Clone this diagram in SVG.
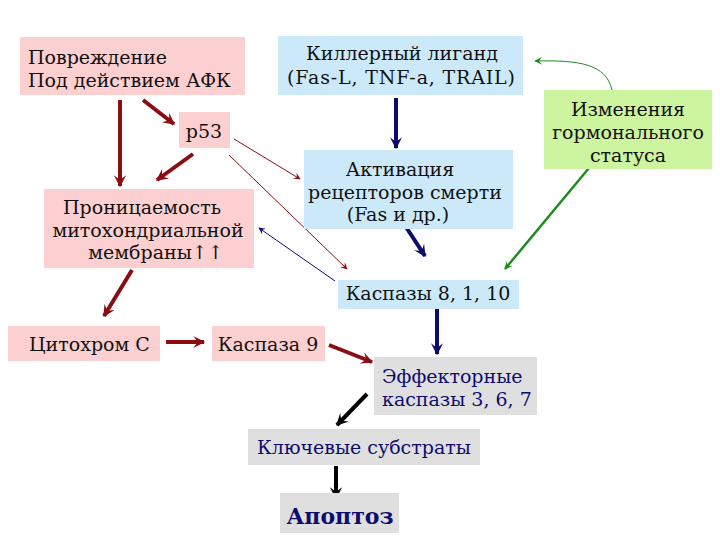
<svg xmlns="http://www.w3.org/2000/svg" width="720" height="540" viewBox="0 0 720 540">
<style>
text{font-family:"DejaVu Serif",serif;font-size:19px;fill:#111}
.pink{fill:#fcd0d0}.blue{fill:#cce9fa}.green{fill:#cdf49e}.grey{fill:#dfdfdf}
text.navy{fill:#0c0c6e}
.r{stroke:#8b0d14;fill:none}.n{stroke:#0c0c6e;fill:none}.g{stroke:#1f8c1f;fill:none}.k{stroke:#000;fill:none}
</style>
<defs>
<marker id="hr" viewBox="0 0 10 10" refX="9" refY="5" markerUnits="userSpaceOnUse" markerWidth="14" markerHeight="12" orient="auto"><path d="M0,0 L10,5 L0,10 L4,5 z" fill="#8b0d14"/></marker>
<marker id="hrt" viewBox="0 0 10 10" refX="9" refY="5" markerUnits="userSpaceOnUse" markerWidth="8" markerHeight="7" orient="auto"><path d="M0,0 L10,5 L0,10 L4,5 z" fill="#8b0d14"/></marker>
<marker id="hn" viewBox="0 0 10 10" refX="9" refY="5" markerUnits="userSpaceOnUse" markerWidth="14" markerHeight="12" orient="auto"><path d="M0,0 L10,5 L0,10 L4,5 z" fill="#0c0c6e"/></marker>
<marker id="hnt" viewBox="0 0 10 10" refX="9" refY="5" markerUnits="userSpaceOnUse" markerWidth="8" markerHeight="7" orient="auto"><path d="M0,0 L10,5 L0,10 L4,5 z" fill="#0c0c6e"/></marker>
<marker id="hg" viewBox="0 0 10 10" refX="9" refY="5" markerUnits="userSpaceOnUse" markerWidth="9" markerHeight="8" orient="auto"><path d="M0,0 L10,5 L0,10 L4,5 z" fill="#1f8c1f"/></marker>
<marker id="hk" viewBox="0 0 10 10" refX="9" refY="5" markerUnits="userSpaceOnUse" markerWidth="14" markerHeight="12" orient="auto"><path d="M0,0 L10,5 L0,10 L4,5 z" fill="#000"/></marker>
</defs>
<rect width="720" height="540" fill="#fff"/>

<g id="connectors">
<line class="r" stroke-width="4" x1="120" y1="100" x2="120" y2="186" marker-end="url(#hr)"/>
<line class="r" stroke-width="4" x1="143" y1="100" x2="174" y2="124" marker-end="url(#hr)"/>
<line class="r" stroke-width="4" x1="193" y1="154" x2="157" y2="180" marker-end="url(#hr)"/>
<line class="r" stroke-width="1" x1="234" y1="139" x2="300" y2="179" marker-end="url(#hrt)"/>
<line class="r" stroke-width="1" x1="229" y1="155" x2="347" y2="269" marker-end="url(#hrt)"/>
<line class="n" stroke-width="1" x1="335" y1="281" x2="259" y2="228" marker-end="url(#hnt)"/>
<line class="n" stroke-width="4" x1="396" y1="98" x2="396" y2="148" marker-end="url(#hn)"/>
<line class="n" stroke-width="4" x1="406" y1="227" x2="425" y2="256" marker-end="url(#hn)"/>
<path class="g" stroke-width="1" d="M612,90 C606,64 580,60 535,61" marker-end="url(#hg)"/>
<line class="g" stroke-width="2.5" x1="589" y1="168" x2="505" y2="269" marker-end="url(#hg)"/>
<line class="r" stroke-width="4" x1="132" y1="270" x2="104" y2="316" marker-end="url(#hr)"/>
<line class="r" stroke-width="4" x1="166" y1="342" x2="204" y2="342" marker-end="url(#hr)"/>
<line class="r" stroke-width="4" x1="329" y1="345" x2="372" y2="362" marker-end="url(#hr)"/>
<line class="n" stroke-width="4" x1="437" y1="308" x2="437" y2="354" marker-end="url(#hn)"/>
<line class="k" stroke-width="4" x1="367" y1="394" x2="337" y2="425" marker-end="url(#hk)"/>
<line class="k" stroke-width="4" x1="336" y1="466" x2="336" y2="498" marker-end="url(#hk)"/>
</g>

<g id="damage"><rect class="pink" x="20" y="37" width="225" height="58"/>
<text x="28" y="64">Повреждение</text><text x="28" y="87">Под действием АФК</text></g>
<g id="ligand"><rect class="blue" x="278" y="36" width="245" height="59"/>
<text x="402" y="60" text-anchor="middle">Киллерный лиганд</text><text x="401" y="84" text-anchor="middle" textLength="228" lengthAdjust="spacing">(Fas-L, TNF-a, TRAIL)</text></g>
<g id="p53"><rect class="pink" x="179" y="112" width="51" height="36"/>
<text x="204" y="138" text-anchor="middle">p53</text></g>
<g id="hormone"><rect class="green" x="544" y="90" width="168" height="79"/>
<text x="628" y="116" text-anchor="middle">Изменения</text><text x="628" y="139" text-anchor="middle">гормонального</text><text x="628" y="162" text-anchor="middle">статуса</text></g>
<g id="receptors"><rect class="blue" x="304" y="150" width="209" height="79"/>
<text x="400" y="176" text-anchor="middle">Активация</text><text x="405" y="199" text-anchor="middle">рецепторов смерти</text><text x="398" y="221" text-anchor="middle">(Fas и др.)</text></g>
<g id="permeability"><rect class="pink" x="44" y="189" width="210" height="79"/>
<text x="142" y="214" text-anchor="middle">Проницаемость</text><text x="148" y="237" text-anchor="middle">митохондриальной</text><text x="156" y="259" text-anchor="middle">мембраны↑↑</text></g>
<g id="casp8"><rect class="blue" x="338" y="280" width="181" height="29"/>
<text x="428" y="300" text-anchor="middle">Каспазы 8, 1, 10</text></g>
<g id="cytc"><rect class="pink" x="8" y="326" width="152" height="35"/>
<text x="29" y="351">Цитохром С</text></g>
<g id="casp9"><rect class="pink" x="212" y="326" width="113" height="35"/>
<text x="268" y="351" text-anchor="middle">Каспаза 9</text></g>
<g id="effector"><rect class="grey" x="374" y="357" width="163" height="58"/>
<text class="navy" x="382" y="383">Эффекторные</text><text class="navy" x="382" y="406">каспазы 3, 6, 7</text></g>
<g id="substrates"><rect class="grey" x="248" y="429" width="232" height="36"/>
<text class="navy" x="364" y="454" text-anchor="middle">Ключевые субстраты</text></g>
<g id="apoptosis"><rect class="grey" x="280" y="493" width="119" height="40"/>
<text class="navy" x="340" y="524" text-anchor="middle" style="font-weight:bold;font-size:22px">Апоптоз</text></g>
</svg>
